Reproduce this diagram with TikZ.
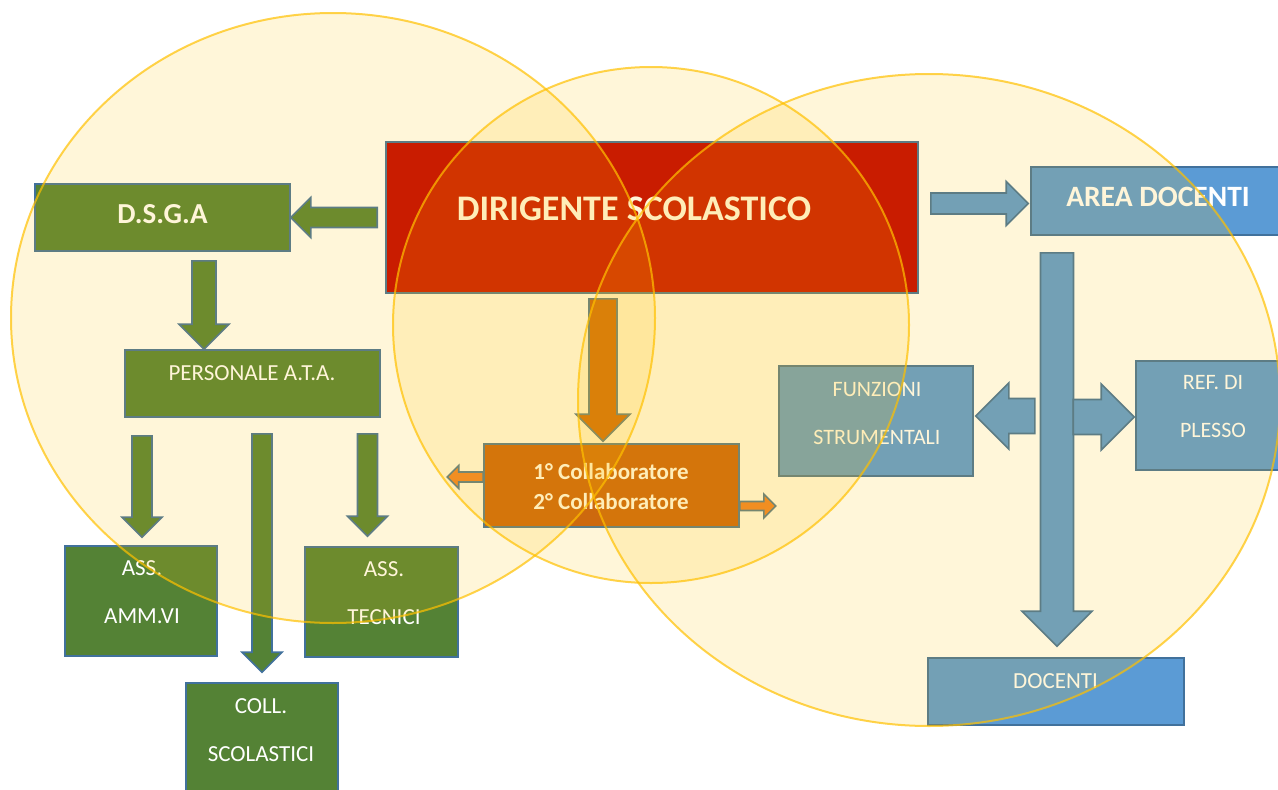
\documentclass[tikz,border=0pt]{standalone}
\usepackage{fontspec}
\setmainfont{Carlito}
\usetikzlibrary{calc}

\definecolor{boxgreen}{HTML}{548235}
\definecolor{boxred}{HTML}{C00000}
\definecolor{boxblue}{HTML}{5B9BD5}
\definecolor{boxorange}{HTML}{C55A11}
\definecolor{tiporange}{HTML}{ED7D31}
\definecolor{edgeblue}{HTML}{41719C}
\definecolor{ringgold}{HTML}{FFC000}

\tikzset{
  orgbox/.style={draw=edgeblue, line width=1.6pt, inner sep=0pt},
  lbl/.style={text=white, inner sep=0pt, align=center},
  arrowbody/.style={draw=edgeblue, line width=1.6pt, line join=miter},
  ring/.style={fill=ringgold, fill opacity=0.15, draw=ringgold, draw opacity=0.7, line width=2pt}
}

% block arrow: [style]{from}{to}{shaft half width}{head half width}
\newcommand{\blockarrow}[5][]{%
  \path (#2) coordinate (ba-s) (#3) coordinate (ba-t);
  \path ($(ba-t)!#5!(ba-s)$) coordinate (ba-h);
  \draw[arrowbody,#1] ($(ba-s)!#4!90:(ba-t)$) -- ($(ba-h)!#4!90:(ba-t)$)
    -- ($(ba-h)!#5!90:(ba-t)$) -- (ba-t) -- ($(ba-h)!#5!-90:(ba-t)$)
    -- ($(ba-h)!#4!-90:(ba-t)$) -- ($(ba-s)!#4!-90:(ba-t)$) -- cycle;}

\begin{document}
\begin{tikzpicture}[x=1pt, y=-1pt]
  \useasboundingbox (0,0) rectangle (1278,790);
  \clip (0,0) rectangle (1278,790);

  % boxes
  \node[orgbox, fill=boxred, minimum width=532pt, minimum height=151pt] (ds) at (652,217.5) {};
  \node[orgbox, fill=boxgreen, minimum width=255pt, minimum height=67pt] (dsga) at (162.5,217.5) {};
  \node[orgbox, fill=boxblue, minimum width=259pt, minimum height=68pt] (area) at (1160.5,201) {};
  \node[orgbox, fill=boxgreen, minimum width=255pt, minimum height=67pt] (ata) at (252.5,383.5) {};
  \node[orgbox, fill=boxorange, minimum width=255pt, minimum height=83pt] (col) at (611.5,485.5) {};
  \node[orgbox, fill=boxblue, minimum width=194pt, minimum height=110pt] (fun) at (876,421) {};
  \node[orgbox, fill=boxblue, minimum width=154pt, minimum height=109pt] (ref) at (1213,415.5) {};
  \node[orgbox, fill=boxgreen, minimum width=152pt, minimum height=110pt] (amm) at (141,601) {};
  \node[orgbox, fill=boxgreen, minimum width=153pt, minimum height=110pt] (tec) at (381.5,602) {};
  \node[orgbox, fill=boxgreen, minimum width=152pt, minimum height=117pt] (coll) at (262,741.5) {};
  \node[orgbox, fill=boxblue, minimum width=256pt, minimum height=67pt] (doc) at (1056,691.5) {};

  % labels
  \node[lbl, font=\bfseries\fontsize{36}{40}\selectfont] (dsT) at (634,209) {DIRIGENTE SCOLASTICO};
  \node[lbl, font=\bfseries\fontsize{29}{34}\selectfont] (dsgaT) at (162.5,214) {D.S.G.A};
  \node[lbl, font=\bfseries\fontsize{29.5}{34}\selectfont] (areaT) at (1158,196.5) {AREA DOCENTI};
  \node[lbl, font=\fontsize{23}{28}\selectfont] (ataT) at (252,373) {PERSONALE A.T.A.};
  \node[lbl, font=\bfseries\fontsize{23}{30}\selectfont] (colT) at (611,487) {1° Collaboratore\\2° Collaboratore};
  \node[lbl, font=\fontsize{22}{48}\selectfont] (funT) at (877,413) {FUNZIONI\\STRUMENTALI};
  \node[lbl, font=\fontsize{22}{48}\selectfont] (refT) at (1213,407) {REF. DI\\PLESSO};
  \node[lbl, font=\fontsize{23}{48}\selectfont] (ammT) at (142,592) {ASS.\\AMM.VI};
  \node[lbl, font=\fontsize{23}{48}\selectfont] (tecT) at (384,593.5) {ASS.\\TECNICI};
  \node[lbl, font=\fontsize{23}{48}\selectfont] (collT) at (261,730) {COLL.\\SCOLASTICI};
  \node[lbl, font=\fontsize{23}{28}\selectfont] (docT) at (1055.5,681.5) {DOCENTI};

  % arrows
  \blockarrow[fill=boxgreen]{$(ds.west)+(-8,0)$}{dsga.east}{10pt}{20pt}
  \path ($(dsga.south)+(41.5,9)$) coordinate (dsgaOut);
  \blockarrow[fill=boxgreen]{dsgaOut}{dsgaOut |- ata.north}{12pt}{25pt}
  \path ($(ds.south)+(-49,5)$) coordinate (dsOut);
  \blockarrow[fill=boxorange]{dsOut}{$(dsOut |- col.north)+(0,-2)$}{14pt}{27pt}
  \blockarrow[fill=tiporange]{$(col.west)+(0,-8.5)$}{$(col.west)+(-36,-8.5)$}{5pt}{11.5pt}
  \blockarrow[fill=tiporange]{$(col.east)+(0,20.5)$}{$(col.east)+(36,20.5)$}{4.5pt}{12pt}
  \path ($(ds.east)+(12,-14)$) coordinate (dsRight);
  \blockarrow[fill=boxblue]{dsRight}{$(dsRight -| area.west)+(-2,0)$}{10.5pt}{22pt}
  \blockarrow[fill=boxblue]{$(doc.north |- area.south)+(1,17)$}{$(doc.north)+(1,-11)$}{16.5pt}{35pt}
  \blockarrow[fill=boxblue]{$(fun.east)+(61,-5)$}{$(fun.east)+(2,-5)$}{17.5pt}{33pt}
  \blockarrow[fill=boxblue]{$(ref.west)+(-62,1.5)$}{$(ref.west)+(-1,1.5)$}{17.5pt}{33pt}
  \blockarrow[fill=boxgreen]{$(amm.north |- ata.south)+(1,18)$}{$(amm.north)+(1,-8)$}{10pt}{20pt}
  \blockarrow[fill=boxgreen]{$(coll.north |- ata.south)+(0,16)$}{$(coll.north)+(0,-10)$}{10pt}{20pt}
  \blockarrow[fill=boxgreen]{$(tec.north |- ata.south)+(-14,16)$}{$(tec.north)+(-14,-10)$}{10pt}{20pt}

  % overlapping areas
  \path[ring] (333,318) ellipse [x radius=322pt, y radius=305pt];
  \path[ring] (651,325) circle [radius=258pt];
  \path[ring] (929,400) ellipse [x radius=351pt, y radius=326pt];
\end{tikzpicture}
\end{document}
